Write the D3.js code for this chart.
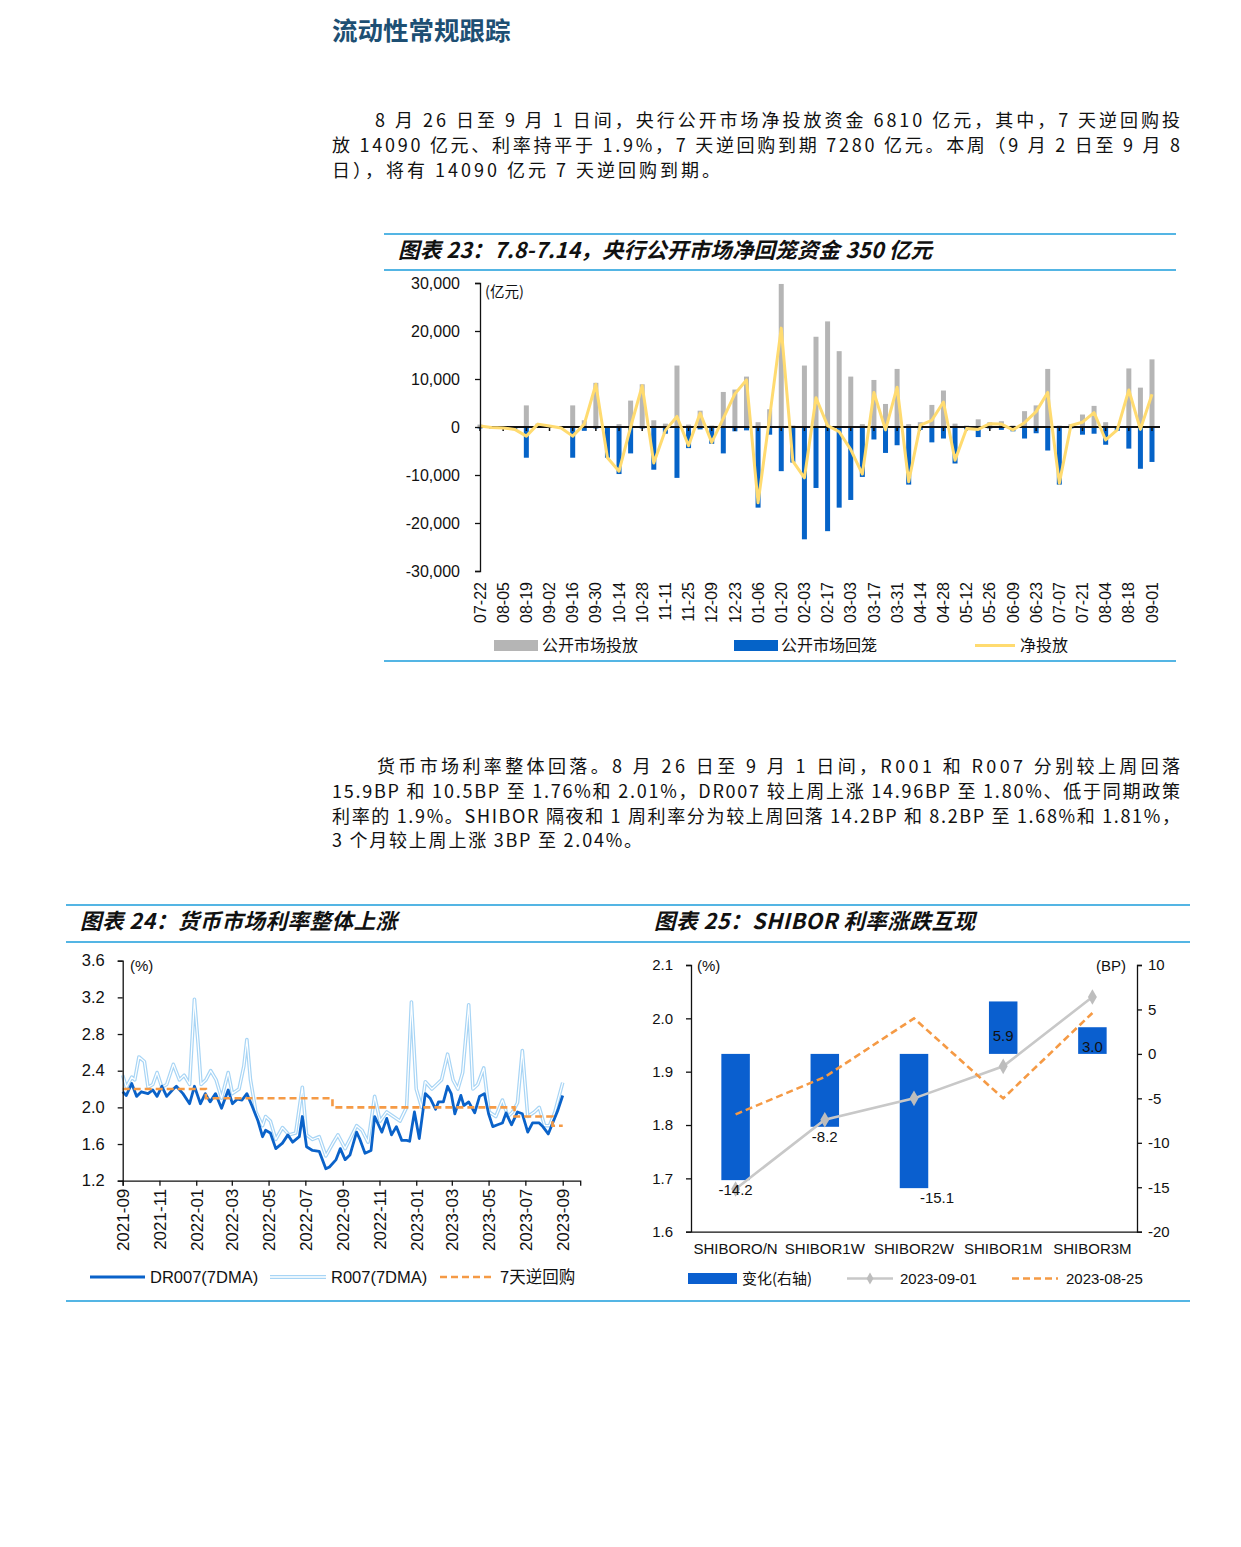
<!DOCTYPE html>
<html><head><meta charset="utf-8">
<script src="https://cdn.jsdelivr.net/npm/d3@7"></script>
<style>
html,body{margin:0;padding:0;background:#fff;}
svg{display:block;}
text{font-family:"Liberation Sans",Arial,sans-serif;fill:#111;}
.cn{font-family:"Noto Sans CJK SC","Noto Sans",sans-serif;}
</style></head><body>
<svg id="page" width="1241" height="1547"></svg>
<script>
// ---------------- DATA ----------------
const pageTitle = "流动性常规跟踪";
const para1 = [
  "8 月 26 日至 9 月 1 日间，央行公开市场净投放资金 6810 亿元，其中，7 天逆回购投",
  "放 14090 亿元、利率持平于 1.9%，7 天逆回购到期 7280 亿元。本周（9 月 2 日至 9 月 8",
  "日），将有 14090 亿元 7 天逆回购到期。"
];
const para2 = [
  "货币市场利率整体回落。8 月 26 日至 9 月 1 日间，R001 和 R007 分别较上周回落",
  "15.9BP 和 10.5BP 至 1.76%和 2.01%，DR007 较上周上涨 14.96BP 至 1.80%、低于同期政策",
  "利率的 1.9%。SHIBOR 隔夜和 1 周利率分为较上周回落 14.2BP 和 8.2BP 至 1.68%和 1.81%，",
  "3 个月较上周上涨 3BP 至 2.04%。"
];

// Chart 23
const title23 = "图表 23：7.8-7.14，央行公开市场净回笼资金 350 亿元";
const unit23 = "(亿元)";
const weeks = ["07-22","07-29","08-05","08-12","08-19","08-26","09-02","09-09","09-16","09-23","09-30",
  "10-07","10-14","10-21","10-28","11-04","11-11","11-18","11-25","12-02","12-09","12-16","12-23","12-30",
  "01-06","01-13","01-20","01-27","02-03","02-10","02-17","02-24","03-03","03-10","03-17","03-24","03-31",
  "04-07","04-14","04-21","04-28","05-05","05-12","05-19","05-26","06-02","06-09","06-16","06-23","06-30",
  "07-07","07-14","07-21","07-28","08-04","08-11","08-18","08-25","09-01"];
const injection = [500,200,100,0,4500,700,400,200,4500,1400,9200,0,600,5500,8900,1400,700,12800,500,3400,300,7300,7800,10500,
  1000,3700,29800,300,12800,18800,22000,15800,10500,600,9800,4800,12100,600,1000,4600,7600,700,300,1600,1000,1200,300,3300,4500,12100,
  300,600,2600,4400,1000,200,12200,8200,14090];
const withdrawal = [-300,-300,-300,-500,-6400,-100,-200,-400,-6400,-800,-300,-6400,-9800,-5500,-300,-8900,-1400,-10600,-4400,-500,-3500,-5500,-900,-700,
  -16800,-1600,-9200,-7400,-23400,-12700,-21700,-16800,-15200,-10400,-2600,-5400,-3800,-12000,-600,-3200,-2400,-7600,-500,-2100,-300,-600,-900,-2400,-1300,-4900,
  -12000,-300,-1600,-1400,-3700,-800,-4500,-8700,-7280];
const netInjection = [200,-100,-200,-500,-1900,600,200,-200,-1900,600,8900,-6400,-9200,0,8600,-7500,-700,2200,-3900,2900,-3200,1800,6900,9800,
  -15800,2100,20600,-7100,-10600,6100,300,-1000,-4700,-9800,7200,-600,8300,-11400,400,1400,5200,-6900,-300,-500,700,600,-600,900,3200,7200,
  -11700,300,1000,3000,-2700,-600,7700,-500,6810];
const yTicks23 = [-30000,-20000,-10000,0,10000,20000,30000];
const legend23 = ["公开市场投放","公开市场回笼","净投放"];

// Chart 24
const title24 = "图表 24：货币市场利率整体上涨";
const dr007Dates = ["2021-09-01","2021-09-07","2021-09-16","2021-09-24","2021-10-02","2021-10-13","2021-10-21","2021-10-28","2021-11-05","2021-11-13",
 "2021-11-24","2021-11-29","2021-12-10","2021-12-21","2021-12-29","2022-01-08","2022-01-16","2022-01-24","2022-02-02","2022-02-12",
 "2022-02-23","2022-03-02","2022-03-10","2022-03-18","2022-03-26","2022-04-04","2022-04-13","2022-04-21","2022-04-26","2022-05-04",
 "2022-05-13","2022-05-24","2022-06-02","2022-06-10","2022-06-21","2022-06-26","2022-07-03","2022-07-13","2022-07-24","2022-08-04",
 "2022-08-10","2022-08-21","2022-08-28","2022-09-05","2022-09-13","2022-09-24","2022-09-29","2022-10-08","2022-10-18","2022-10-24",
 "2022-11-05","2022-11-13","2022-11-21","2022-11-29","2022-12-08","2022-12-16","2022-12-21","2022-12-29","2023-01-06","2023-01-16",
 "2023-01-24","2023-02-02","2023-02-07","2023-02-15","2023-02-22","2023-02-28","2023-03-06","2023-03-16","2023-03-21","2023-03-29",
 "2023-04-08","2023-04-16","2023-04-24","2023-05-01","2023-05-08","2023-05-16","2023-05-24","2023-05-30","2023-06-08","2023-06-18",
 "2023-06-26","2023-07-05","2023-07-13","2023-07-24","2023-07-30","2023-08-08","2023-08-16","2023-08-24","2023-09-01"];
const dr007Values = [2.17,2.13,2.26,2.12,2.17,2.15,2.19,2.12,2.23,2.12,
 2.20,2.23,2.15,2.04,2.23,2.04,2.15,2.06,2.15,1.99,
 2.19,2.04,2.09,2.08,2.15,2.01,1.86,1.68,1.75,1.72,
 1.55,1.61,1.70,1.62,1.68,1.90,1.57,1.53,1.52,1.33,
 1.35,1.43,1.55,1.43,1.48,1.73,1.66,1.50,1.53,1.90,
 1.73,1.88,1.70,1.79,1.64,1.64,1.63,1.95,1.66,2.15,
 2.10,1.98,2.06,2.06,2.23,2.15,1.93,2.13,2.02,2.06,
 1.94,2.12,2.15,1.93,1.79,1.81,1.83,1.94,1.81,1.95,
 1.93,1.73,1.83,1.83,1.79,1.71,1.84,1.97,2.13];
const r007Dates = ["2021-09-01","2021-09-07","2021-09-16","2021-09-21","2021-09-28","2021-10-07","2021-10-13","2021-10-21","2021-10-28","2021-11-05",
 "2021-11-13","2021-11-24","2021-12-04","2021-12-12","2021-12-21","2021-12-29","2022-01-04","2022-01-09","2022-01-17","2022-01-25",
 "2022-02-03","2022-02-12","2022-02-23","2022-03-02","2022-03-13","2022-03-21","2022-03-26","2022-04-01","2022-04-10","2022-04-21",
 "2022-04-26","2022-05-04","2022-05-13","2022-05-24","2022-06-04","2022-06-15","2022-06-26","2022-07-03","2022-07-13","2022-07-24",
 "2022-08-04","2022-08-15","2022-08-24","2022-09-05","2022-09-15","2022-09-24","2022-10-03","2022-10-13","2022-10-24","2022-11-02",
 "2022-11-13","2022-11-24","2022-12-05","2022-12-16","2022-12-24","2023-01-01","2023-01-10","2023-01-16","2023-01-27","2023-02-04",
 "2023-02-12","2023-02-22","2023-03-03","2023-03-11","2023-03-19","2023-03-29","2023-04-05","2023-04-13","2023-04-23","2023-05-02",
 "2023-05-13","2023-05-24","2023-06-02","2023-06-10","2023-06-18","2023-06-26","2023-07-05","2023-07-16","2023-07-24","2023-08-02",
 "2023-08-10","2023-08-19","2023-09-01"];
const r007Values = [2.35,2.22,2.33,2.30,2.55,2.50,2.22,2.25,2.38,2.22,
 2.25,2.47,2.30,2.35,2.25,3.18,2.70,2.25,2.30,2.40,
 2.30,2.10,2.38,2.15,2.20,2.45,2.74,2.30,1.95,1.80,
 1.90,1.85,1.65,1.78,1.70,1.72,2.22,1.70,1.65,1.68,
 1.47,1.60,1.70,1.55,1.68,1.80,1.75,1.62,2.12,1.85,
 1.95,1.90,1.85,2.00,3.15,2.20,2.00,2.28,2.20,2.25,
 2.30,2.58,2.30,2.20,2.38,3.12,2.20,2.25,2.43,1.95,
 1.90,2.08,1.90,1.95,2.05,2.62,1.90,1.95,2.00,1.80,
 1.80,1.95,2.27];
const policyDates = ["2021-09-01","2022-01-17","2022-08-15","2023-06-13","2023-08-15","2023-09-01"];
const policyValues = [2.2,2.1,2.0,1.9,1.8,1.8];
const yTicks24 = [1.2,1.6,2.0,2.4,2.8,3.2,3.6];
const legend24 = ["DR007(7DMA)","R007(7DMA)","7天逆回购"];

// Chart 25
const title25 = "图表 25：SHIBOR 利率涨跌互现";
const cats25 = ["SHIBORO/N","SHIBOR1W","SHIBOR2W","SHIBOR1M","SHIBOR3M"];
const change25 = [-14.2,-8.2,-15.1,5.9,3.0];
const rate0901 = [1.68,1.81,1.85,1.91,2.04];
const rate0825 = [1.82,1.89,2.00,1.85,2.01];
const yTicks25L = [1.6,1.7,1.8,1.9,2.0,2.1];
const yTicks25R = [-20,-15,-10,-5,0,5,10];
const legend25 = ["变化(右轴)","2023-09-01","2023-08-25"];

// ---------------- DRAW ----------------
const svg = d3.select("#page");
svg.append("rect").attr("width",1241).attr("height",1547).attr("fill","#fff");
const RULE = "#1b9ddb";
const GRAY = "#b5b5b5", BLUE = "#0563c8", YEL = "#ffdb70", ORANGE = "#f59a45";
const minus = s => String(s).replace("\u2212","-");

svg.append("text").attr("class","cn").attr("x",332).attr("y",40)
  .attr("font-size",25.5).attr("font-weight","bold").style("fill","#1d4f73").text(pageTitle);

function paragraph(lines, y0, lh, indentX, lastEnd) {
  lines.forEach((t,i)=>{
    const last = i === lines.length-1;
    const x = i===0 ? indentX : 332;
    const el = svg.append("text").attr("class","cn").attr("x",x).attr("y",y0+i*lh)
      .attr("font-size",18).text(t);
    el.attr("textLength",(last ? lastEnd : 1180)-x).attr("lengthAdjust","spacing");
  });
}
paragraph(para1,127,25,375,720);
paragraph(para2,773,24.8,377,642);

// ---------- Chart 23 ----------
[234,270,661].forEach(y=>svg.append("line").attr("x1",384).attr("x2",1176).attr("y1",y).attr("y2",y).attr("stroke",RULE).attr("stroke-width",1.6));
svg.append("text").attr("class","cn").attr("x",398).attr("y",258).attr("font-size",21.5)
  .attr("font-weight","bold").attr("font-style","italic").attr("textLength",534).attr("lengthAdjust","spacing").text(title23);

const x23 = d3.scalePoint().domain(weeks).range([480,1152]);
const y23 = d3.scaleLinear().domain([-30000,30000]).range([571,283]);
const g23 = svg.append("g");
const bw = 5;
g23.selectAll("rect.inj").data(injection).join("rect").attr("class","inj")
  .attr("x",(d,i)=>x23(weeks[i])-bw/2).attr("width",bw)
  .attr("y",d=>y23(Math.max(d,0))).attr("height",d=>Math.abs(y23(d)-y23(0))).attr("fill",GRAY);
g23.selectAll("rect.wd").data(withdrawal).join("rect").attr("class","wd")
  .attr("x",(d,i)=>x23(weeks[i])-bw/2).attr("width",bw)
  .attr("y",y23(0)).attr("height",d=>Math.abs(y23(d)-y23(0))).attr("fill",BLUE);
g23.append("line").attr("x1",480).attr("x2",1160).attr("y1",y23(0)).attr("y2",y23(0)).attr("stroke","#111").attr("stroke-width",1.8);
weeks.forEach((w,i)=>{ if(i%2===0) g23.append("line").attr("x1",x23(w)).attr("x2",x23(w)).attr("y1",y23(0)).attr("y2",y23(0)+4).attr("stroke","#111").attr("stroke-width",1.5); });
g23.append("path").datum(netInjection)
  .attr("d",d3.line().x((d,i)=>x23(weeks[i])).y(d=>y23(d)))
  .attr("fill","none").attr("stroke",YEL).attr("stroke-width",3).attr("stroke-linejoin","round");
const ya23 = g23.append("g").attr("transform","translate(480,0)")
  .call(d3.axisLeft(y23).tickValues(yTicks23).tickSize(5).tickPadding(15).tickFormat(d=>minus(d3.format(",")(d))));
ya23.select(".domain").attr("stroke","#111").attr("stroke-width",1.3);
ya23.selectAll(".tick line").attr("stroke","#111").attr("stroke-width",1.3);
ya23.selectAll("text").attr("font-size",16).style("font-family","Liberation Sans, Arial, sans-serif").style("fill","#111");
g23.append("text").attr("class","cn").attr("x",485).attr("y",297).attr("font-size",14.5).text(unit23);
weeks.forEach((w,i)=>{ if(i%2===0) g23.append("text")
  .attr("transform",`translate(${x23(w)},582) rotate(-90)`).attr("text-anchor","end").attr("dy","0.35em")
  .attr("font-size",16).text(w); });
// legend 23
svg.append("rect").attr("x",494).attr("y",640).attr("width",44).attr("height",11).attr("fill",GRAY);
svg.append("text").attr("class","cn").attr("x",542).attr("y",651).attr("font-size",16).text(legend23[0]);
svg.append("rect").attr("x",734).attr("y",640).attr("width",44).attr("height",11).attr("fill",BLUE);
svg.append("text").attr("class","cn").attr("x",781).attr("y",651).attr("font-size",16).text(legend23[1]);
svg.append("line").attr("x1",975).attr("x2",1015).attr("y1",645.5).attr("y2",645.5).attr("stroke",YEL).attr("stroke-width",3);
svg.append("text").attr("class","cn").attr("x",1020).attr("y",651).attr("font-size",16).text(legend23[2]);

// ---------- Chart 24 / 25 frames ----------
[905,942,1301].forEach(y=>svg.append("line").attr("x1",66).attr("x2",1190).attr("y1",y).attr("y2",y).attr("stroke",RULE).attr("stroke-width",1.6));
svg.append("text").attr("class","cn").attr("x",80).attr("y",929).attr("font-size",21.5)
  .attr("font-weight","bold").attr("font-style","italic").attr("textLength",317).attr("lengthAdjust","spacing").text(title24);
svg.append("text").attr("class","cn").attr("x",654).attr("y",929).attr("font-size",21.5)
  .attr("font-weight","bold").attr("font-style","italic").attr("textLength",321).attr("lengthAdjust","spacing").text(title25);

// ---------- Chart 24 ----------
const parse = d3.timeParse("%Y-%m-%d");
const x24 = d3.scaleTime().domain([parse("2021-09-01"),parse("2023-09-30")]).range([122.7,580.2]);
const y24 = d3.scaleLinear().domain([1.2,3.6]).range([1180.7,960.7]);
const g24 = svg.append("g");
const line24 = d3.line().x(d=>x24(d[0])).y(d=>y24(d[1]));
const rData = r007Dates.map((d,i)=>[parse(d),r007Values[i]]);
const dData = dr007Dates.map((d,i)=>[parse(d),dr007Values[i]]);
const pData = policyDates.map((d,i)=>[parse(d),policyValues[i]]);
g24.append("path").datum(rData).attr("d",line24).attr("fill","none").attr("stroke","#a8d5f5").attr("stroke-width",3.6).attr("stroke-linejoin","round");
g24.append("path").datum(rData).attr("d",line24).attr("fill","none").attr("stroke","#fff").attr("stroke-width",1.2).attr("stroke-linejoin","round");
g24.append("path").datum(dData).attr("d",line24).attr("fill","none").attr("stroke","#0a62c9").attr("stroke-width",2.8).attr("stroke-linejoin","round");
const stepLine = d3.line().x(d=>x24(d[0])).y(d=>y24(d[1])).curve(d3.curveStepAfter);
g24.append("path").datum(pData).attr("d",stepLine).attr("fill","none").attr("stroke",ORANGE).attr("stroke-width",2.6).attr("stroke-dasharray","7,4");
const ya24 = g24.append("g").attr("transform","translate(122.7,0)")
  .call(d3.axisLeft(y24).tickValues(yTicks24).tickSize(5).tickPadding(13).tickFormat(d3.format(".1f")));
const xa24 = g24.append("g").attr("transform","translate(0,1180.7)")
  .call(d3.axisBottom(x24).ticks(d3.timeMonth.every(2)).tickSize(5).tickFormat(d3.timeFormat("%Y-%m")));
xa24.selectAll("text").attr("transform","rotate(-90)").attr("text-anchor","end").attr("x",-8).attr("y",0).attr("dy","0.35em");
[ya24,xa24].forEach(a=>{
  a.select(".domain").attr("stroke","#111").attr("stroke-width",1.3);
  a.selectAll(".tick line").attr("stroke","#111").attr("stroke-width",1.3);
  a.selectAll("text").attr("font-size",16.5).style("font-family","Liberation Sans, Arial, sans-serif").style("fill","#111");
});
xa24.selectAll("text").attr("font-size",17);
g24.append("text").attr("x",130).attr("y",971).attr("font-size",15).text("(%)");
// legend 24
svg.append("line").attr("x1",90).attr("x2",145).attr("y1",1277).attr("y2",1277).attr("stroke","#0a62c9").attr("stroke-width",3);
svg.append("text").attr("x",150).attr("y",1283).attr("font-size",16.5).text(legend24[0]);
svg.append("line").attr("x1",270).attr("x2",326).attr("y1",1277).attr("y2",1277).attr("stroke","#a8d5f5").attr("stroke-width",4);
svg.append("line").attr("x1",270).attr("x2",326).attr("y1",1277).attr("y2",1277).attr("stroke","#fff").attr("stroke-width",1.6);
svg.append("text").attr("x",331).attr("y",1283).attr("font-size",16.5).text(legend24[1]);
svg.append("line").attr("x1",440).attr("x2",495).attr("y1",1277).attr("y2",1277).attr("stroke",ORANGE).attr("stroke-width",2.6).attr("stroke-dasharray","7,4");
svg.append("text").attr("class","cn").attr("x",500).attr("y",1283).attr("font-size",16.5).text(legend24[2]);

// ---------- Chart 25 ----------
const x25 = d3.scaleBand().domain(cats25).range([691,1137]);
const yL = d3.scaleLinear().domain([1.6,2.1]).range([1231.7,965]);
const yR = d3.scaleLinear().domain([-20,10]).range([1231.7,965]);
const g25 = svg.append("g");
const bw25 = 28.5;
const cx = c => x25(c)+x25.bandwidth()/2;
g25.selectAll("rect.chg").data(change25).join("rect").attr("class","chg")
  .attr("x",(d,i)=>cx(cats25[i])-bw25/2).attr("width",bw25)
  .attr("y",d=>yR(Math.max(d,0))).attr("height",d=>Math.abs(yR(d)-yR(0))).attr("fill","#0a5fcf");
const line25 = d3.line().x((d,i)=>cx(cats25[i])).y(d=>yL(d));
g25.append("path").datum(rate0901).attr("d",line25).attr("fill","none").attr("stroke","#c8c8c8").attr("stroke-width",2.6);
g25.selectAll("path.dia").data(rate0901).join("path").attr("class","dia")
  .attr("transform",(d,i)=>`translate(${cx(cats25[i])},${yL(d)})`)
  .attr("d",d3.symbol(d3.symbolDiamond,70)).attr("fill","#bdbdbd");
g25.append("path").datum(rate0825).attr("d",line25).attr("fill","none").attr("stroke",ORANGE).attr("stroke-width",2.6).attr("stroke-dasharray","7,4");
g25.selectAll("text.lbl").data(change25).join("text").attr("class","lbl")
  .attr("x",(d,i)=>cx(cats25[i]) + (i===2 ? 23 : 0))
  .attr("y",d=> d<0 ? yR(d)+15 : Math.min(yR(0)-2, yR(d)+40))
  .attr("text-anchor","middle").attr("font-size",15).text(d=>d.toFixed(1));
const ya25L = g25.append("g").attr("transform","translate(691,0)")
  .call(d3.axisLeft(yL).tickValues(yTicks25L).tickSize(5).tickPadding(13).tickFormat(d3.format(".1f")));
const ya25R = g25.append("g").attr("transform","translate(1137,0)")
  .call(d3.axisRight(yR).tickValues(yTicks25R).tickSize(5).tickPadding(6).tickFormat(d=>minus(d)));
const xa25 = g25.append("g").attr("transform","translate(0,1231.7)")
  .call(d3.axisBottom(x25).tickSize(0).tickPadding(12));
[ya25L,ya25R,xa25].forEach(a=>{
  a.select(".domain").attr("stroke","#111").attr("stroke-width",1.3);
  a.selectAll(".tick line").attr("stroke","#111").attr("stroke-width",1.3);
  a.selectAll("text").attr("font-size",15).style("font-family","Liberation Sans, Arial, sans-serif").style("fill","#111");
});
g25.append("text").attr("x",697).attr("y",971).attr("font-size",15).text("(%)");
g25.append("text").attr("x",1126).attr("y",971).attr("font-size",15).attr("text-anchor","end").text("(BP)");
// legend 25
svg.append("rect").attr("x",688).attr("y",1273).attr("width",49).attr("height",11).attr("fill","#0a5fcf");
svg.append("text").attr("class","cn").attr("x",742).attr("y",1284).attr("font-size",15).text(legend25[0]);
svg.append("line").attr("x1",847).attr("x2",893).attr("y1",1278.5).attr("y2",1278.5).attr("stroke","#c8c8c8").attr("stroke-width",2.6);
svg.append("path").attr("transform","translate(870,1278.5)").attr("d",d3.symbol(d3.symbolDiamond,40)).attr("fill","#bdbdbd");
svg.append("text").attr("x",900).attr("y",1284).attr("font-size",15).text(legend25[1]);
svg.append("line").attr("x1",1012).attr("x2",1058).attr("y1",1278.5).attr("y2",1278.5).attr("stroke",ORANGE).attr("stroke-width",2.6).attr("stroke-dasharray","7,4");
svg.append("text").attr("x",1066).attr("y",1284).attr("font-size",15).text(legend25[2]);
</script></body></html>
